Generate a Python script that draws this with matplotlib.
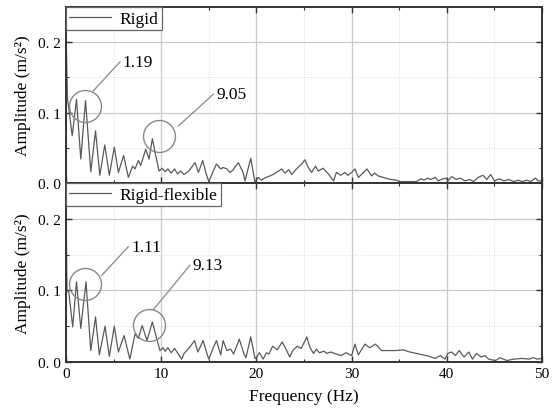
import numpy as np
import matplotlib
matplotlib.use('Agg')
import matplotlib.pyplot as plt
from matplotlib.ticker import MultipleLocator, FuncFormatter

plt.rcParams['font.family'] = ['Liberation Serif', 'DejaVu Serif']

# rigid model spectrum (Hz, m/s^2)
f_rigid = [0.0, 0.15, 0.35, 0.65, 1.1, 1.55, 2.05, 2.6, 3.1, 3.55, 4.07, 4.55, 5.07, 5.5,
           6.05, 6.55, 7.0, 7.25, 7.6, 7.85, 8.37, 8.72, 9.07, 9.42, 9.77, 10.1, 10.4, 10.7,
           11.05, 11.4, 11.7, 12.05, 12.4, 12.9, 13.55, 13.9, 14.36, 14.7, 15.0, 15.5, 15.8,
           16.25, 16.5, 16.9, 17.2, 17.5, 18.1, 18.6, 18.8, 19.4, 19.85, 20.2, 20.5, 20.85,
           21.4, 21.75, 22.1, 22.65, 23.0, 23.4, 23.7, 24.2, 24.75, 25.1, 25.45, 25.8, 26.2,
           26.5, 27.0, 27.55, 28.1, 28.4, 28.85, 29.3, 29.6, 30.0, 30.35, 30.7, 31.1, 31.6,
           32.1, 32.4, 32.8, 33.3, 33.8, 34.1, 34.7, 35.0, 35.6, 36.3, 36.8, 37.3, 37.6, 38.0,
           38.3, 38.8, 39.1, 39.6, 39.9, 40.1, 40.5, 41.0, 41.4, 41.9, 42.4, 42.8, 43.3, 43.8,
           44.2, 44.6, 45.0, 45.5, 46.0, 46.5, 47.0, 47.5, 47.9, 48.4, 48.8, 49.3, 49.6, 50.0]
a_rigid = [0.215, 0.12, 0.10, 0.067, 0.119, 0.034, 0.117, 0.016, 0.074, 0.011, 0.054, 0.011, 0.051, 0.015,
           0.039, 0.008, 0.024, 0.02, 0.032, 0.025, 0.048, 0.034, 0.063, 0.039, 0.017, 0.021, 0.016, 0.02,
           0.014, 0.02, 0.013, 0.017, 0.012, 0.017, 0.029, 0.015, 0.032, 0.014, 0.002, 0.018, 0.027,
           0.02, 0.022, 0.02, 0.015, 0.018, 0.029, 0.015, 0.003, 0.035, 0.001, 0.008, 0.004, 0.007,
           0.01, 0.012, 0.015, 0.02, 0.014, 0.019, 0.012, 0.02, 0.027, 0.033, 0.022, 0.015, 0.024,
           0.017, 0.021, 0.013, 0.003, 0.015, 0.011, 0.015, 0.011, 0.015, 0.02, 0.008, 0.013, 0.02,
           0.01, 0.014, 0.01, 0.008, 0.006, 0.005, 0.004, 0.002, 0.002, 0.002, 0.002, 0.006, 0.004, 0.007,
           0.005, 0.008, 0.003, 0.006, 0.007, 0.003, 0.009, 0.005, 0.007, 0.003, 0.005, 0.002, 0.008, 0.011,
           0.005, 0.012, 0.003, 0.006, 0.003, 0.005, 0.002, 0.004, 0.002, 0.004, 0.002, 0.007, 0.003, 0.003]

# rigid-flexible model spectrum
f_rf = [0.0, 0.1, 0.3, 0.7, 1.1, 1.55, 2.1, 2.6, 3.1, 3.5, 4.1, 4.55, 5.07, 5.5, 6.1, 6.7,
        7.25, 7.6, 8.0, 8.5, 9.07, 9.5, 9.87, 10.2, 10.4, 10.7, 11.05, 11.4, 11.75, 12.15,
        12.4, 12.9, 13.5, 13.85, 14.4, 14.75, 15.0, 15.5, 15.8, 16.25, 16.5, 16.9, 17.3,
        17.6, 18.2, 18.7, 18.9, 19.4, 19.85, 20.0, 20.3, 20.5, 20.7, 21.05, 21.3, 21.7,
        22.2, 22.7, 23.1, 23.5, 23.8, 24.3, 24.7, 25.3, 25.6, 26.0, 26.3, 26.6, 27.1, 27.4,
        27.8, 28.4, 28.9, 29.4, 30.0, 30.35, 30.7, 31.4, 31.9, 32.5, 33.15, 34.0, 34.7, 35.4,
        36.1, 36.8, 37.5, 38.1, 38.8, 39.3, 39.8, 40.1, 40.5, 40.9, 41.3, 41.8, 42.3, 42.7,
        43.1, 43.6, 44.0, 44.4, 45.1, 45.6, 46.3, 47.0, 47.9, 48.6, 49.1, 49.5, 50.0]
a_rf = [0.217, 0.10, 0.097, 0.049, 0.112, 0.047, 0.112, 0.016, 0.063, 0.01, 0.05, 0.008, 0.05, 0.014, 0.037, 0.004,
        0.039, 0.033, 0.051, 0.03, 0.056, 0.034, 0.016, 0.02, 0.015, 0.02, 0.013, 0.019, 0.012, 0.004,
        0.012, 0.019, 0.03, 0.014, 0.03, 0.014, 0.004, 0.021, 0.03, 0.01, 0.03, 0.016, 0.018,
        0.011, 0.032, 0.011, 0.006, 0.035, 0.005, 0.006, 0.013, 0.009, 0.004, 0.013, 0.011, 0.022,
        0.017, 0.028, 0.018, 0.007, 0.016, 0.022, 0.019, 0.035, 0.021, 0.012, 0.018, 0.013, 0.015, 0.012,
        0.014, 0.011, 0.009, 0.013, 0.009, 0.025, 0.01, 0.025, 0.02, 0.025, 0.016, 0.016, 0.016, 0.017,
        0.014, 0.012, 0.01, 0.008, 0.005, 0.009, 0.004, 0.012, 0.014, 0.009, 0.016, 0.007, 0.014, 0.004,
        0.012, 0.007, 0.009, 0.004, 0.002, 0.006, 0.002, 0.004, 0.005, 0.004, 0.006, 0.004, 0.005]

labels = ['Rigid', 'Rigid-flexible']
# (circle centre, line start, line end / text position, text)
notes_rigid = [((2.0, 0.11), (2.87, 0.131), (5.67, 0.172), '1.19'),
               ((9.8, 0.067), (11.8, 0.081), (15.47, 0.126), '9.05')]
notes_rf = [((2.0, 0.109), (3.75, 0.121), (6.54, 0.161), '1.11'),
            ((8.75, 0.051), (9.17, 0.073), (13.0, 0.135), '9.13')]

fig = plt.figure(figsize=(5.52, 4.10), dpi=100)
ax1 = fig.add_axes([0.1196, 0.5512, 0.8624, 0.4293])
ax2 = fig.add_axes([0.1196, 0.1146, 0.8624, 0.4366])

yfmt = FuncFormatter(lambda v, p: '{:.1f}'.format(v).replace('.', '. '))

for ax, f, a, lab, notes in [(ax1, f_rigid, a_rigid, labels[0], notes_rigid),
                             (ax2, f_rf, a_rf, labels[1], notes_rf)]:
    ax.plot(f, a, color='#5a5a5a', lw=0.9, label=lab)
    ax.set_xlim(0, 50)
    ax.set_ylim(0, 0.25)
    ax.xaxis.set_major_locator(MultipleLocator(10))
    ax.xaxis.set_minor_locator(MultipleLocator(5))
    ax.yaxis.set_major_locator(MultipleLocator(0.1))
    ax.yaxis.set_minor_locator(MultipleLocator(0.05))
    ax.yaxis.set_major_formatter(yfmt)
    ax.grid(which='major', color='#cccccc', lw=0.9, ls='-')
    ax.grid(which='minor', color='#dddddd', lw=0.7, ls=':')
    ax.set_axisbelow(True)
    ax.tick_params(which='both', direction='in', top=True, right=True, labelsize=11,
                   color='#333333')
    ax.tick_params(which='major', length=4, width=1)
    ax.tick_params(which='minor', length=2.5, width=0.8)
    for s in ax.spines.values():
        s.set_linewidth(1.4)
        s.set_color('#333333')
    ax.set_ylabel('Amplitude (m/s²)', fontsize=12.5, labelpad=5)
    leg = ax.legend(loc='upper left', fontsize=12.5, handlelength=2.4, fancybox=False,
                    borderaxespad=0.0, borderpad=0.2, handletextpad=0.5, framealpha=1)
    leg.get_frame().set_edgecolor('#666666')
    leg.get_frame().set_linewidth(0.9)
    for c, p0, p1, txt in notes:
        ax.plot(c[0], c[1], 'o', ms=23, mfc='none', mec='#888888', mew=1.0)
        ax.plot([p0[0], p1[0]], [p0[1], p1[1]], color='#888888', lw=0.9)
        ax.text(p1[0] + 0.3, p1[1], txt, fontsize=12.5, ha='left', va='center')

ax1.tick_params(labelbottom=False)
ax2.set_xlabel('Frequency (Hz)', fontsize=12.5, labelpad=6)

fig.savefig('out.png', dpi=100)
